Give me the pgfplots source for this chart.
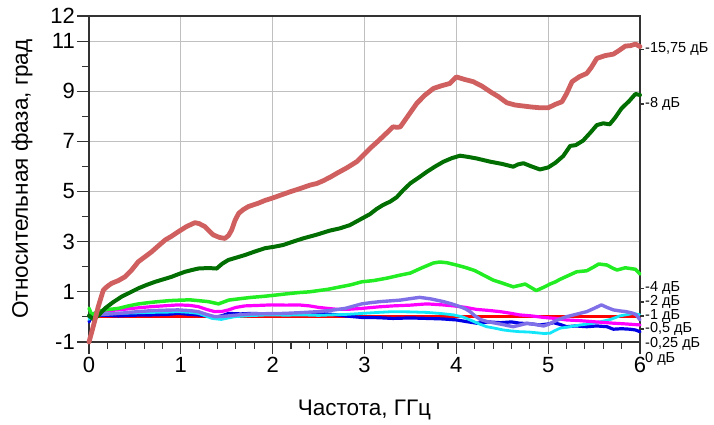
\documentclass[border=0pt]{standalone}
\usepackage{fontspec}
\setmainfont{Liberation Sans}
\usepackage{pgfplots}
\pgfplotsset{compat=1.18}
\definecolor{cBrown}{RGB}{208,96,96}
\definecolor{cDkGreen}{RGB}{0,110,0}
\definecolor{cLime}{RGB}{34,236,34}
\definecolor{cMag}{RGB}{255,0,255}
\definecolor{cPurp}{RGB}{128,112,232}
\definecolor{cCyan}{RGB}{20,230,250}
\definecolor{cBlue}{RGB}{0,0,230}
\definecolor{cRed}{RGB}{255,0,0}
\definecolor{cGrid}{RGB}{192,192,192}
\begin{document}
\begin{tikzpicture}
\useasboundingbox (-89bp,-83bp) rectangle (625bp,342bp);
\begin{axis}[
  scale only axis, width=551bp, height=326bp,
  xmin=0, xmax=6, ymin=-1, ymax=12,
  xtick={0,1,2,3,4,5,6}, xticklabels={0,1,2,3,4,5,6},
  minor x tick num=4,
  ytick={-1,1,3,5,7,9,11,12}, yticklabels={-1,1,3,5,7,9,11,12},
  minor ytick={0,2,4,6,8,10},
  grid=major,
  major grid style={cGrid, line width=1.1bp},
  axis line style={black!80, line width=1.3bp},
  tick style={black!80, line width=1.1bp},
  tick align=outside, tick pos=left,
  major tick length=12bp, minor tick length=7bp,
  ticklabel style={font=\fontsize{22bp}{26bp}\selectfont},
  yticklabel style={inner sep=2bp},
  xticklabel style={inner sep=3bp},
  xlabel={Частота, ГГц},
  ylabel={Относительная фаза, град},
  label style={font=\fontsize{22.5bp}{26bp}\selectfont},
  xlabel style={at={(axis description cs:0.5,-0.224)}, anchor=base},
  ylabel style={at={(axis description cs:-0.111,0.5)}, anchor=base},
  clip=false,
  every axis plot/.append style={line join=round, line cap=round},
]
% 0 dB baseline
\addplot[cRed, line width=3bp] coordinates {(0,0) (6,0)};
% blue
\addplot[cBlue, line width=3.2bp] coordinates {
(0,-0.2) (0.03,0.05) (0.065,0.08) (0.2,0.06) (0.32,0.04) (0.5,0.07) (0.68,0.08) (0.85,0.1) (0.97,0.14) (1.1,0.1) (1.19,0.08) (1.3,0.03) (1.37,-0.02) (1.45,0.05) (1.52,0.14) (1.65,0.12) (1.77,0.14) (1.95,0.12) (2.13,0.12) (2.3,0.1) (2.5,0.14) (2.65,0.1) (2.79,0.04) (2.97,-0.02) (3.15,-0.03) (3.31,-0.06) (3.5,-0.04) (3.68,-0.06) (3.85,-0.08) (4.0,-0.12) (4.1,-0.18) (4.22,-0.25) (4.35,-0.2) (4.48,-0.23) (4.6,-0.2) (4.69,-0.25) (4.8,-0.27) (4.91,-0.32) (5.0,-0.28) (5.06,-0.23) (5.13,-0.3) (5.2,-0.39) (5.3,-0.36) (5.42,-0.39) (5.53,-0.36) (5.64,-0.39) (5.71,-0.49) (5.8,-0.47) (5.89,-0.49) (5.95,-0.52) (6.0,-0.59)};
% cyan
\addplot[cCyan, line width=2.8bp] coordinates {
(0,-0.1) (0.03,0.1) (0.065,0.14) (0.2,0.13) (0.32,0.14) (0.5,0.16) (0.68,0.18) (0.85,0.19) (0.97,0.21) (1.1,0.18) (1.19,0.14) (1.27,0.04) (1.34,-0.06) (1.44,-0.1) (1.52,-0.04) (1.59,0.01) (1.75,0.05) (1.95,0.08) (2.15,0.07) (2.32,0.08) (2.5,0.06) (2.64,0.08) (2.8,0.1) (2.97,0.14) (3.15,0.18) (3.31,0.21) (3.5,0.2) (3.68,0.18) (3.85,0.13) (3.97,0.08) (4.07,0) (4.15,-0.12) (4.25,-0.28) (4.33,-0.39) (4.42,-0.45) (4.51,-0.52) (4.6,-0.56) (4.69,-0.59) (4.78,-0.6) (4.87,-0.63) (4.95,-0.66) (5.02,-0.65) (5.07,-0.55) (5.13,-0.45) (5.25,-0.38) (5.35,-0.32) (5.46,-0.27) (5.57,-0.19) (5.68,-0.1) (5.78,0.04) (5.87,0.1) (5.93,0.14) (6.0,0.08)};
% magenta
\addplot[cMag, line width=3.2bp] coordinates {
(0,0.05) (0.03,0.1) (0.1,0.21) (0.2,0.25) (0.32,0.28) (0.5,0.35) (0.68,0.41) (0.85,0.45) (0.97,0.48) (1.1,0.46) (1.19,0.41) (1.28,0.3) (1.37,0.21) (1.45,0.22) (1.52,0.28) (1.6,0.38) (1.70,0.44) (1.85,0.46) (1.99,0.48) (2.15,0.47) (2.28,0.48) (2.4,0.44) (2.5,0.38) (2.6,0.34) (2.71,0.30) (2.85,0.31) (2.97,0.34) (3.15,0.4) (3.31,0.44) (3.5,0.47) (3.68,0.52) (3.85,0.48) (3.97,0.44) (4.1,0.38) (4.22,0.30) (4.35,0.26) (4.48,0.21) (4.6,0.14) (4.69,0.08) (4.82,0.04) (4.95,-0.02) (5.08,-0.06) (5.2,-0.12) (5.35,-0.15) (5.49,-0.19) (5.6,-0.22) (5.71,-0.25) (5.85,-0.28) (6.0,-0.32)};
% purple
\addplot[cPurp, line width=3.4bp] coordinates {
(0,0.0) (0.065,0.08) (0.2,0.11) (0.32,0.14) (0.5,0.2) (0.68,0.25) (0.85,0.27) (0.97,0.28) (1.1,0.25) (1.19,0.21) (1.28,0.1) (1.37,0.01) (1.45,0.02) (1.52,0.04) (1.65,0.09) (1.77,0.12) (1.95,0.13) (2.13,0.14) (2.3,0.17) (2.5,0.21) (2.65,0.27) (2.79,0.34) (2.88,0.43) (2.97,0.52) (3.07,0.57) (3.17,0.61) (3.28,0.64) (3.39,0.67) (3.5,0.73) (3.6,0.78) (3.72,0.72) (3.86,0.61) (3.95,0.52) (4.04,0.41) (4.1,0.32) (4.15,0.21) (4.2,0.05) (4.26,-0.1) (4.33,-0.18) (4.40,-0.23) (4.5,-0.3) (4.62,-0.39) (4.7,-0.32) (4.77,-0.25) (4.86,-0.3) (4.95,-0.36) (5.0,-0.3) (5.06,-0.19) (5.13,-0.08) (5.2,0.01) (5.3,0.1) (5.42,0.21) (5.5,0.34) (5.58,0.48) (5.64,0.38) (5.71,0.28) (5.78,0.24) (5.85,0.21) (5.92,0.15) (5.96,0.08) (6.0,-0.12)};
% lime (-4 dB)
\addplot[cLime, line width=3.5bp] coordinates {
(0,0.35) (0.03,0.08) (0.1,0.22) (0.17,0.28) (0.32,0.34) (0.43,0.44) (0.54,0.52) (0.65,0.57) (0.755,0.61) (0.88,0.65) (1.0,0.67) (1.1,0.68) (1.19,0.65) (1.3,0.61) (1.41,0.52) (1.47,0.6) (1.52,0.67) (1.65,0.73) (1.77,0.78) (1.9,0.82) (2.03,0.87) (2.15,0.92) (2.28,0.97) (2.4,1.0) (2.5,1.05) (2.6,1.1) (2.71,1.18) (2.85,1.28) (2.97,1.4) (3.1,1.45) (3.25,1.55) (3.38,1.66) (3.5,1.75) (3.62,1.95) (3.75,2.15) (3.82,2.19) (3.9,2.16) (4.0,2.07) (4.1,1.97) (4.2,1.85) (4.30,1.66) (4.40,1.47) (4.5,1.35) (4.62,1.2) (4.68,1.25) (4.75,1.31) (4.81,1.18) (4.87,1.05) (4.95,1.18) (5.02,1.31) (5.08,1.4) (5.13,1.5) (5.22,1.65) (5.31,1.8) (5.42,1.84) (5.5,2.0) (5.55,2.11) (5.64,2.07) (5.7,1.95) (5.75,1.87) (5.84,1.96) (5.95,1.90) (6.0,1.71)};
% dark green (-8 dB)
\addplot[cDkGreen, line width=4bp] coordinates {
(0,0.05) (0.05,-0.1) (0.1,0.05) (0.174,0.34) (0.26,0.58) (0.356,0.81) (0.45,0.98) (0.537,1.14) (0.63,1.28) (0.72,1.4) (0.81,1.5) (0.9,1.6) (0.97,1.7) (1.045,1.8) (1.12,1.87) (1.19,1.93) (1.3,1.95) (1.39,1.93) (1.45,2.12) (1.517,2.27) (1.6,2.36) (1.70,2.47) (1.8,2.6) (1.917,2.74) (2.02,2.8) (2.116,2.87) (2.22,3.0) (2.33,3.13) (2.48,3.28) (2.62,3.44) (2.73,3.53) (2.84,3.66) (2.95,3.88) (3.06,4.1) (3.13,4.3) (3.2,4.46) (3.28,4.6) (3.35,4.77) (3.42,5.05) (3.5,5.33) (3.6,5.58) (3.68,5.79) (3.77,6.0) (3.86,6.19) (3.95,6.33) (4.04,6.43) (4.13,6.38) (4.22,6.32) (4.3,6.25) (4.37,6.19) (4.5,6.1) (4.62,5.99) (4.67,6.08) (4.73,6.13) (4.82,6.0) (4.91,5.88) (5.0,5.96) (5.08,6.15) (5.165,6.42) (5.24,6.82) (5.3,6.85) (5.38,7.03) (5.46,7.35) (5.53,7.65) (5.6,7.72) (5.67,7.68) (5.73,7.95) (5.8,8.32) (5.88,8.6) (5.95,8.89) (6.0,8.85)};
% brown (-15.75 dB)
\addplot[cBrown, line width=4.8bp] coordinates {
(0,-1) (0.03,-0.6) (0.065,-0.12) (0.1,0.4) (0.156,1.07) (0.2,1.22) (0.247,1.34) (0.32,1.45) (0.392,1.6) (0.46,1.85) (0.537,2.2) (0.61,2.4) (0.683,2.6) (0.76,2.85) (0.83,3.07) (0.9,3.22) (0.973,3.4) (1.06,3.6) (1.154,3.76) (1.2,3.72) (1.263,3.6) (1.31,3.42) (1.354,3.27) (1.42,3.17) (1.48,3.13) (1.52,3.25) (1.554,3.47) (1.59,3.85) (1.63,4.13) (1.68,4.28) (1.735,4.4) (1.79,4.47) (1.84,4.53) (1.92,4.65) (1.99,4.73) (2.09,4.86) (2.19,4.99) (2.3,5.12) (2.41,5.26) (2.48,5.32) (2.55,5.43) (2.63,5.58) (2.70,5.73) (2.81,5.95) (2.915,6.19) (2.99,6.46) (3.06,6.72) (3.13,6.95) (3.2,7.19) (3.26,7.4) (3.31,7.58) (3.36,7.56) (3.39,7.58) (3.48,8.05) (3.57,8.52) (3.66,8.85) (3.75,9.11) (3.84,9.22) (3.93,9.31) (4.0,9.57) (4.09,9.47) (4.185,9.38) (4.28,9.2) (4.37,8.98) (4.46,8.78) (4.55,8.54) (4.64,8.45) (4.73,8.41) (4.82,8.37) (4.91,8.34) (5.0,8.34) (5.08,8.48) (5.15,8.58) (5.2,8.9) (5.26,9.38) (5.34,9.58) (5.42,9.71) (5.47,9.95) (5.53,10.31) (5.62,10.42) (5.71,10.48) (5.77,10.62) (5.84,10.8) (5.9,10.82) (5.95,10.88) (6.0,10.78)};
% right-hand labels
\foreach \yy/\lab in {10.68/{-15,75 дБ}, 8.49/{-8 дБ}, 1.15/{-4 дБ}, 0.595/{-2 дБ}, 0.037/{-1 дБ}, -0.48/{-0,5 дБ}, -1.08/{-0,25 дБ}, -1.68/{0 дБ}} {
  \edef\tmp{\noexpand\node[anchor=west, inner sep=0pt, font=\noexpand\fontsize{14.5bp}{16bp}\noexpand\selectfont] at (axis cs:6,\yy) {\noexpand\hspace{5bp}\lab};}
  \tmp
}
\foreach \yy in {10.68, 8.49, 1.15, 0.595, 0.037, -0.48} {
  \edef\tmp{\noexpand\draw[black!80, line width=1.1bp] (axis cs:6,\yy) -- ([xshift=4bp]axis cs:6,\yy);}
  \tmp
}
\end{axis}
\end{tikzpicture}
\end{document}
